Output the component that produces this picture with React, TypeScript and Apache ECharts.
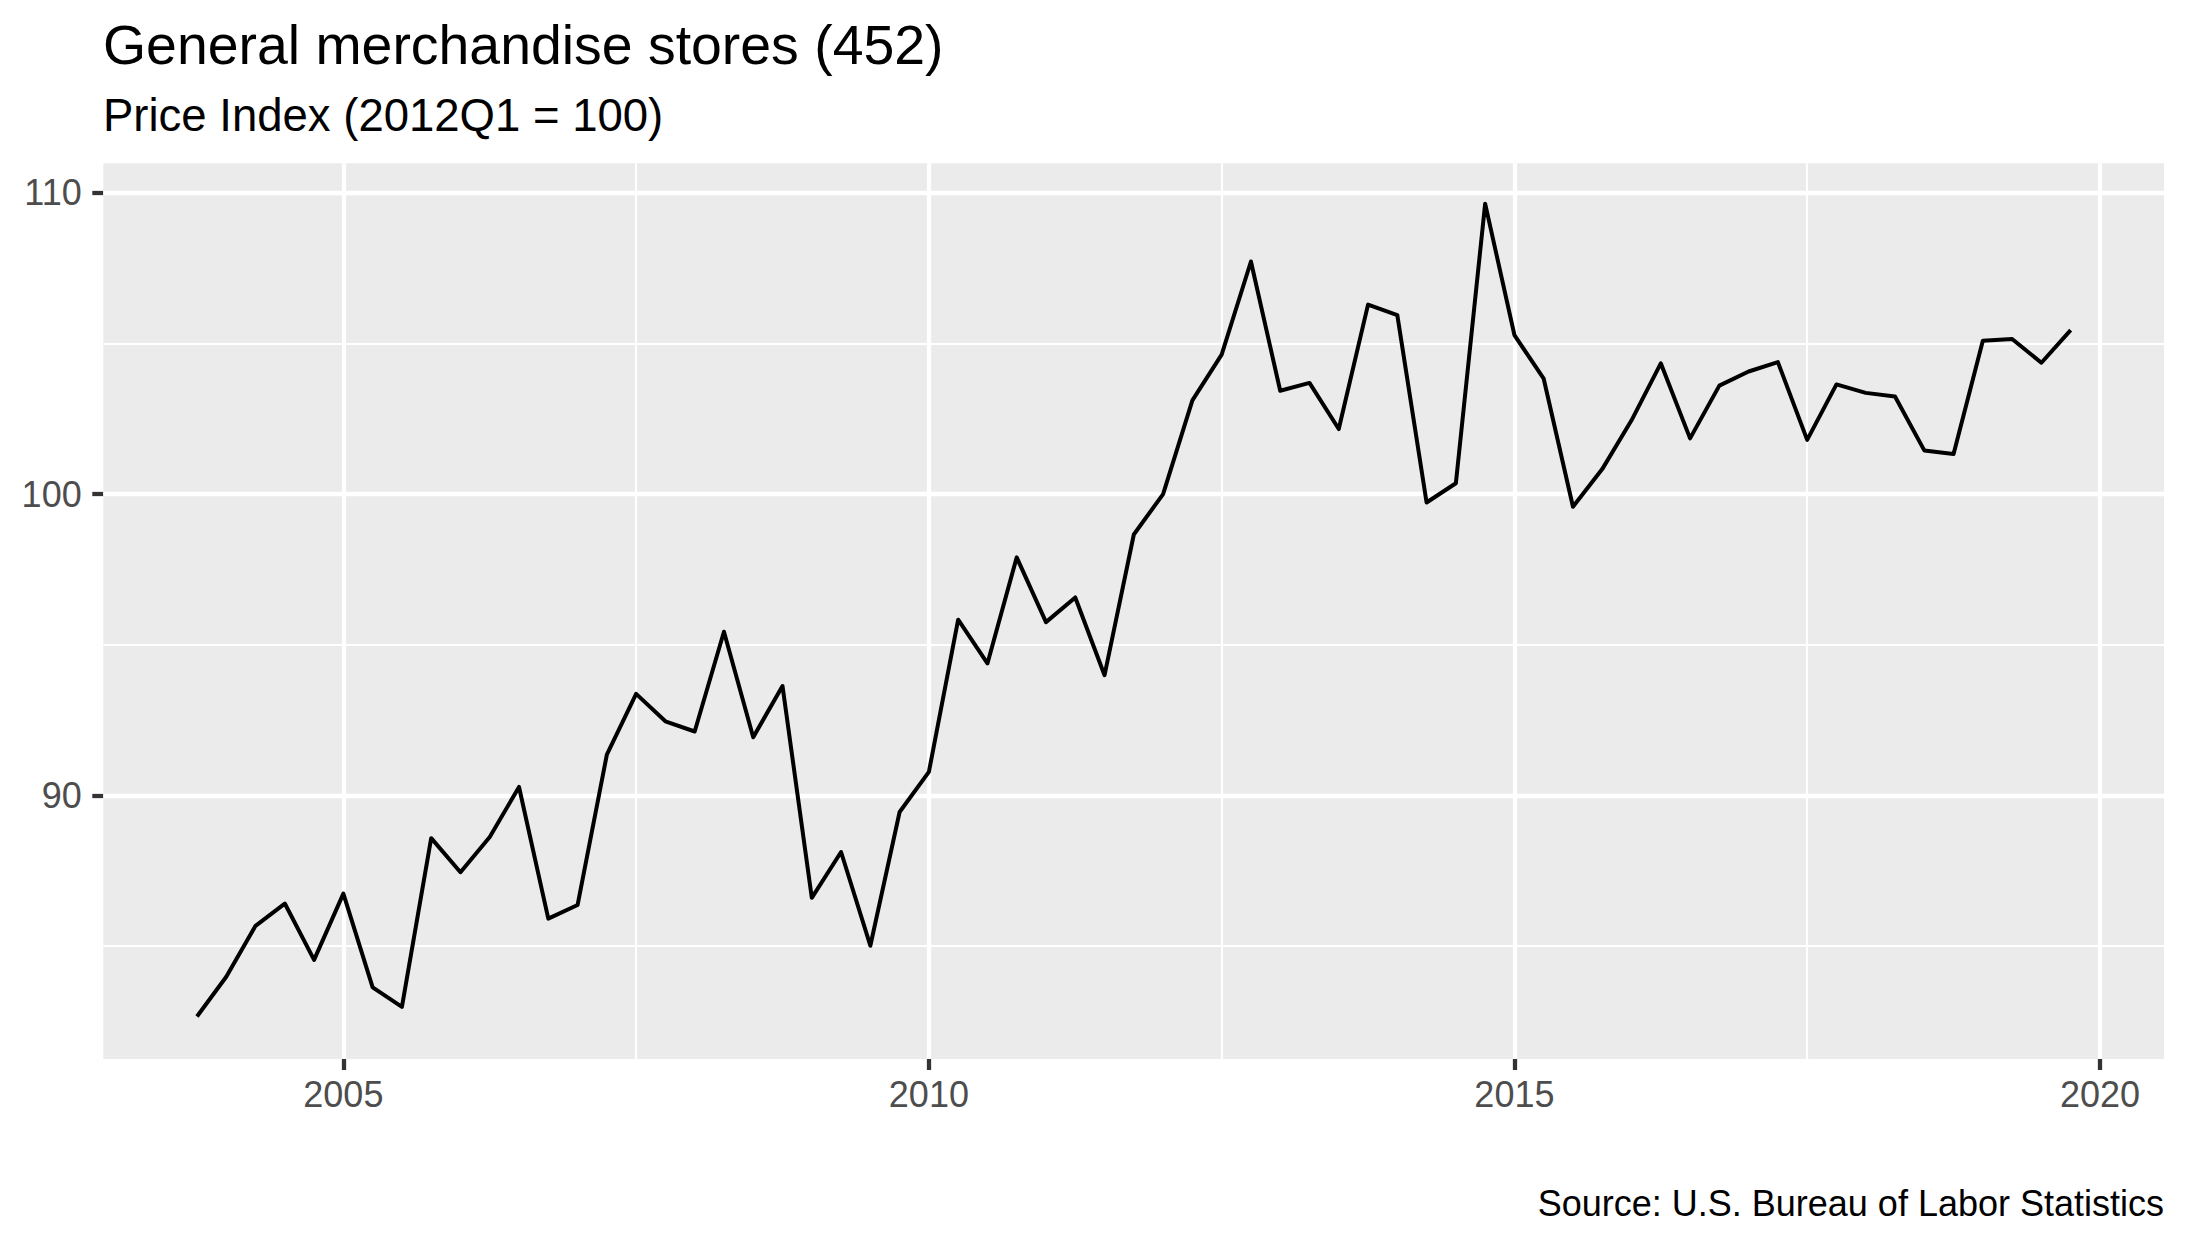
import React, { useEffect, useRef } from "react";
import * as echarts from "echarts";

const quarters = [
  "2003Q4",
  "2004Q1", "2004Q2", "2004Q3", "2004Q4",
  "2005Q1", "2005Q2", "2005Q3", "2005Q4",
  "2006Q1", "2006Q2", "2006Q3", "2006Q4",
  "2007Q1", "2007Q2", "2007Q3", "2007Q4",
  "2008Q1", "2008Q2", "2008Q3", "2008Q4",
  "2009Q1", "2009Q2", "2009Q3", "2009Q4",
  "2010Q1", "2010Q2", "2010Q3", "2010Q4",
  "2011Q1", "2011Q2", "2011Q3", "2011Q4",
  "2012Q1", "2012Q2", "2012Q3", "2012Q4",
  "2013Q1", "2013Q2", "2013Q3", "2013Q4",
  "2014Q1", "2014Q2", "2014Q3", "2014Q4",
  "2015Q1", "2015Q2", "2015Q3", "2015Q4",
  "2016Q1", "2016Q2", "2016Q3", "2016Q4",
  "2017Q1", "2017Q2", "2017Q3", "2017Q4",
  "2018Q1", "2018Q2", "2018Q3", "2018Q4",
  "2019Q1", "2019Q2", "2019Q3", "2019Q4",
];

const priceIndex = [
  82.66,
  83.98, 85.67, 86.41, 84.54,
  86.74, 83.63, 82.98, 88.58,
  87.45, 88.62, 90.28, 85.91,
  86.36, 91.35, 93.37, 92.46,
  92.12, 95.43, 91.93, 93.63,
  86.6, 88.12, 85.01, 89.45,
  90.78, 95.83, 94.38, 97.9,
  95.75, 96.57, 93.99, 98.66,
  100.0, 103.11, 104.63, 107.72,
  103.43, 103.69, 102.16, 106.29,
  105.94, 99.72, 100.36, 109.64,
  105.28, 103.83, 99.58, 100.83,
  102.45, 104.34, 101.85, 103.6,
  104.07, 104.38, 101.8, 103.64,
  103.36, 103.24, 101.45, 101.33,
  105.09, 105.15, 104.36, 105.44,
];

const xTickYears = [2005, 2010, 2015, 2020];
const xMinorGridYears = [2007.5, 2012.5, 2017.5];
const yTickValues = [90, 100, 110];
const yMinorGridValues = [85, 95, 105];

const titleText = "General merchandise stores (452)";
const subtitleText = "Price Index (2012Q1 = 100)";
const captionText = "Source: U.S. Bureau of Labor Statistics";

const FONT = '"Liberation Sans", Arial, Helvetica, sans-serif';

function quarterToYear(q: string): number {
  const year = parseInt(q.slice(0, 4), 10);
  const qn = parseInt(q.slice(5), 10);
  return year + (qn - 1) / 4;
}

export default function App() {
  const ref = useRef<HTMLDivElement>(null);

  useEffect(() => {
    if (!ref.current) return;
    const chart = echarts.init(ref.current, undefined, { renderer: "svg" });

    const seriesData = quarters.map((q, i) => [quarterToYear(q), priceIndex[i]]);

    const majorW = 4.27;
    const minorW = 2.13;

    const gridLines: any[] = [];
    xTickYears.forEach((v) =>
      gridLines.push({ xAxis: v, lineStyle: { color: "#FFFFFF", width: majorW, type: "solid" } })
    );
    xMinorGridYears.forEach((v) =>
      gridLines.push({ xAxis: v, lineStyle: { color: "#FFFFFF", width: minorW, type: "solid" } })
    );
    yTickValues.forEach((v) =>
      gridLines.push({ yAxis: v, lineStyle: { color: "#FFFFFF", width: majorW, type: "solid" } })
    );
    yMinorGridValues.forEach((v) =>
      gridLines.push({ yAxis: v, lineStyle: { color: "#FFFFFF", width: minorW, type: "solid" } })
    );

    chart.setOption({
      animation: false,
      grid: {
        show: true,
        left: 103.3,
        top: 163.3,
        right: 23,
        bottom: 191,
        backgroundColor: "#EBEBEB",
        borderWidth: 0,
        containLabel: false,
        z: 0,
      },
      xAxis: {
        type: "value",
        min: 2002.95,
        max: 2020.547,
        axisLine: { show: false },
        splitLine: { show: false },
        axisTick: {
          show: true,
          customValues: xTickYears,
          length: 11,
          lineStyle: { color: "#333333", width: 4.27 },
        },
        axisLabel: {
          show: true,
          customValues: xTickYears,
          color: "#4D4D4D",
          fontSize: 36,
          fontFamily: FONT,
          margin: 35,
          verticalAlign: "middle",
          formatter: (v: number) => String(v),
        },
      },
      yAxis: {
        type: "value",
        min: 81.25,
        max: 110.98,
        axisLine: { show: false },
        splitLine: { show: false },
        axisTick: {
          show: true,
          customValues: yTickValues,
          length: 11,
          lineStyle: { color: "#333333", width: 4.27 },
        },
        axisLabel: {
          show: true,
          customValues: yTickValues,
          color: "#4D4D4D",
          fontSize: 36,
          fontFamily: FONT,
          margin: 21.6,
          formatter: (v: number) => String(v),
        },
      },
      graphic: [
        {
          type: "text",
          x: 103,
          y: 44.6,
          style: {
            text: titleText,
            fontSize: 55.4,
            fontFamily: FONT,
            fill: "#000000",
            align: "left",
            verticalAlign: "middle",
          },
        },
        {
          type: "text",
          x: 103,
          y: 115.5,
          style: {
            text: subtitleText,
            fontSize: 45.5,
            fontFamily: FONT,
            fill: "#000000",
            align: "left",
            verticalAlign: "middle",
          },
        },
        {
          type: "text",
          x: 2164,
          y: 1203.5,
          style: {
            text: captionText,
            fontSize: 36,
            fontFamily: FONT,
            fill: "#000000",
            align: "right",
            verticalAlign: "middle",
          },
        },
      ],
      series: [
        {
          type: "line",
          name: "grid",
          data: [],
          z: 1,
          silent: true,
          markLine: {
            silent: true,
            z: 1,
            symbol: ["none", "none"],
            label: { show: false },
            emphasis: { disabled: true },
            data: gridLines,
          },
        },
        {
          type: "line",
          name: "Price Index",
          data: seriesData,
          z: 10,
          showSymbol: false,
          symbol: "none",
          silent: true,
          lineStyle: { color: "#000000", width: 4.0, join: "round", cap: "butt" },
        },
      ],
    });

    return () => {
      chart.dispose();
    };
  }, []);

  return (
    <div
      ref={ref}
      style={{ position: "fixed", left: 0, top: 0, width: 2187, height: 1250, background: "#FFFFFF" }}
    />
  );
}
